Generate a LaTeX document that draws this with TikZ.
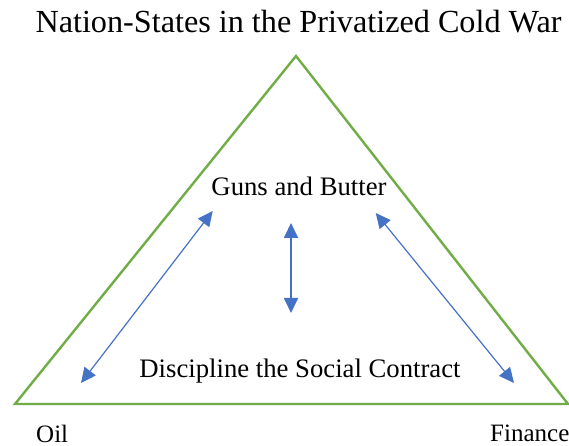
\documentclass[tikz,border=0pt]{standalone}
\usepackage{fontspec}
\setmainfont{Liberation Serif}
\usetikzlibrary{arrows.meta}
\definecolor{leafgreen}{HTML}{70AD47}
\definecolor{linkblue}{HTML}{4472C4}
\begin{document}
\begin{tikzpicture}[x=1pt,y=1pt,
  frame/.style={draw=leafgreen,line width=2.4pt,line join=miter},
  link/.style={draw=linkblue,line width=1.2pt,
    {Triangle[length=15pt,width=14pt]}-{Triangle[length=15pt,width=14pt]}},
  biglabel/.style={inner sep=0pt,font=\fontsize{32.2}{36}\selectfont},
  label/.style={inner sep=0pt,font=\fontsize{26.7}{30}\selectfont},
  cornerlabel/.style={inner sep=0pt,font=\fontsize{25}{29}\selectfont}]
\useasboundingbox (0,0) rectangle (569,446);
% triangle corners
\coordinate (apex) at (296,390);
\coordinate (oilc) at (15,42);
\coordinate (finc) at (568,42);
\draw[frame] (apex) -- (finc) -- (oilc) -- cycle;
% texts
\node[biglabel,anchor=base] (title) at (298.5,413) {Nation-States in the Privatized Cold War};
\node[label,anchor=base] (guns) at (299,250) {Guns and Butter};
\node[label,anchor=base] (disc) at (300,68) {Discipline the Social Contract};
\node[cornerlabel,anchor=base west] (oil) at (36,3) {Oil};
\node[cornerlabel,anchor=base west] (fin) at (490,4) {Finance};
% arrow end points
\coordinate (la) at (81,63);
\coordinate (lb) at (212.7,235);
\coordinate (va) at (291,223);
\coordinate (vb) at (291,133);
\coordinate (ra) at (375.7,233);
\coordinate (rb) at (514,63);
\draw[link] (la) -- (lb);
\draw[link,line width=1.8pt] (va) -- (vb);
\draw[link] (ra) -- (rb);
\end{tikzpicture}
\end{document}
